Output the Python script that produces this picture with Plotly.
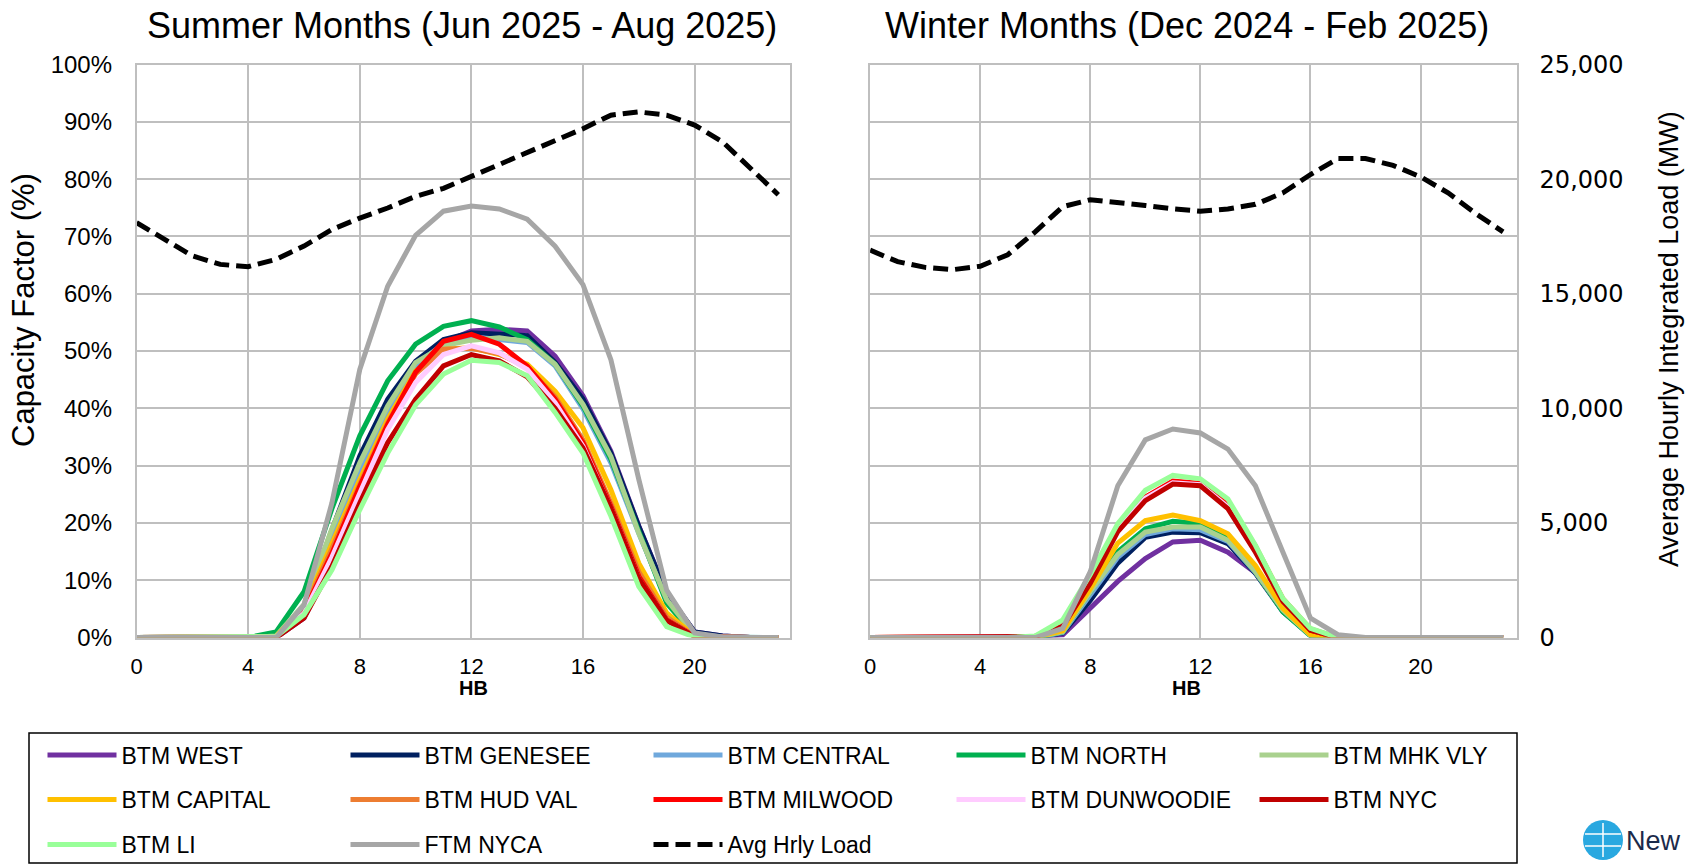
import plotly.graph_objects as go

# ---------------- data ----------------
HB = list(range(24))
x_ticks = [0, 4, 8, 12, 16, 20]
cf_ticks = [0, 10, 20, 30, 40, 50, 60, 70, 80, 90, 100]
cf_labels = ["0%", "10%", "20%", "30%", "40%", "50%", "60%", "70%", "80%", "90%", "100%"]
load_ticks = [0, 5000, 10000, 15000, 20000, 25000]
load_labels = ["0", "5,000", "10,000", "15,000", "20,000", "25,000"]

zone_names = ["BTM WEST", "BTM GENESEE", "BTM CENTRAL", "BTM NORTH", "BTM MHK VLY",
              "BTM CAPITAL", "BTM HUD VAL", "BTM MILWOOD", "BTM DUNWOODIE", "BTM NYC",
              "BTM LI", "FTM NYCA"]
zone_colors = ["#7030A0", "#002060", "#6FA8DC", "#00B050", "#A9D18E",
               "#FFC000", "#ED7D31", "#FF0000", "#FFCCFF", "#C00000",
               "#99FF99", "#A6A6A6"]

# Summer capacity factor (%), HB 0..23
summer_west      = [0, 0, 0, 0, 0, 0.0, 3.4, 13.0, 28.0, 39.0, 47.0, 51.5, 53.5, 53.8, 53.5, 49.1, 42.2, 32.5, 19.5, 7.8, 1.0, 0.3, 0, 0]
summer_genesee   = [0, 0, 0, 0, 0, 0.2, 5.2, 18.8, 31.7, 41.6, 48.2, 52.0, 53.2, 53.0, 52.7, 48.0, 41.6, 32.2, 19.4, 7.7, 1.0, 0.3, 0, 0]
summer_central   = [0, 0, 0, 0, 0, 0.1, 5.5, 17.5, 29.3, 39.2, 47.5, 51.3, 52.5, 52.0, 51.5, 47.4, 39.9, 30.5, 18.2, 6.5, 0.6, 0.1, 0, 0]
summer_north     = [0, 0, 0, 0, 0, 1.0, 8.0, 22.5, 35.2, 44.8, 51.2, 54.3, 55.3, 54.2, 52.0, 47.7, 40.4, 31.1, 18.8, 6.0, 0.4, 0, 0, 0]
summer_mhkvly    = [0, 0, 0, 0, 0, 0.3, 5.8, 19.0, 30.5, 40.4, 48.0, 50.9, 51.9, 52.3, 51.7, 47.7, 40.7, 31.6, 18.2, 6.6, 0.5, 0, 0, 0]
summer_capital   = [0, 0, 0, 0, 0, 0.2, 5.2, 16.5, 27.6, 38.1, 46.5, 50.3, 50.6, 49.4, 47.7, 43.0, 36.6, 25.8, 13.0, 4.3, 0.3, 0, 0, 0]
summer_hudval    = [0, 0, 0, 0, 0, 0.1, 4.8, 15.5, 26.8, 37.5, 46.0, 50.3, 50.5, 49.5, 47.2, 42.0, 34.5, 23.5, 11.5, 3.6, 0.2, 0, 0, 0]
summer_milwood   = [0, 0, 0, 0, 0, 0.1, 4.5, 14.7, 26.4, 37.2, 46.3, 51.7, 52.9, 51.2, 47.4, 41.6, 34.0, 22.9, 10.7, 3.1, 0.2, 0, 0, 0]
summer_dunwoodie = [0, 0, 0, 0, 0, 0.1, 4.2, 14.0, 25.2, 36.3, 44.5, 49.4, 50.9, 49.7, 46.8, 41.0, 33.4, 22.5, 10.2, 2.9, 0.2, 0, 0, 0]
summer_nyc       = [0, 0, 0, 0, 0, 0.0, 3.4, 12.4, 23.5, 34.0, 41.6, 47.4, 49.4, 48.3, 45.5, 40.0, 33.1, 22.6, 10.3, 3.0, 0.2, 0, 0, 0]
summer_li        = [0, 0, 0, 0, 0, 0.2, 4.0, 11.8, 22.3, 32.2, 40.6, 46.0, 48.4, 48.0, 45.7, 39.3, 32.2, 21.2, 8.9, 1.9, 0.1, 0, 0, 0]
summer_ftm_nyca  = [0, 0, 0, 0, 0, 0.0, 5.7, 23.5, 46.8, 61.3, 70.2, 74.4, 75.3, 74.8, 73.0, 68.3, 61.6, 48.5, 27.6, 8.3, 0.8, 0.1, 0, 0]

# Winter capacity factor (%), HB 0..23
winter_west      = [0, 0, 0, 0, 0, 0, 0.0, 0.5, 5.3, 9.8, 13.8, 16.7, 17.0, 14.9, 11.3, 5.1, 0.4, 0, 0, 0, 0, 0, 0, 0]
winter_genesee   = [0, 0, 0, 0, 0, 0, 0.0, 0.8, 6.5, 13.0, 17.5, 18.4, 18.3, 16.4, 11.2, 4.5, 0.5, 0, 0, 0, 0, 0, 0, 0]
winter_central   = [0, 0, 0, 0, 0, 0, 0.0, 0.9, 7.5, 14.0, 18.0, 19.0, 18.8, 16.8, 11.4, 4.6, 0.4, 0, 0, 0, 0, 0, 0, 0]
winter_north     = [0, 0, 0, 0, 0, 0, 0.0, 1.0, 8.0, 15.0, 19.0, 20.3, 19.9, 17.3, 11.5, 4.5, 0.3, 0, 0, 0, 0, 0, 0, 0]
winter_mhkvly    = [0, 0, 0, 0, 0, 0, 0.0, 1.0, 8.0, 14.5, 18.4, 19.3, 19.3, 17.0, 11.5, 4.8, 0.4, 0, 0, 0, 0, 0, 0, 0]
winter_capital   = [0, 0, 0, 0, 0, 0, 0.1, 1.2, 8.5, 16.5, 20.4, 21.4, 20.4, 18.1, 12.6, 5.1, 0.5, 0, 0, 0, 0, 0, 0, 0]
winter_hudval    = [0, 0, 0, 0, 0, 0, 0.2, 1.8, 10.0, 19.0, 24.5, 27.0, 26.8, 23.5, 16.0, 6.8, 1.5, 0, 0, 0, 0, 0, 0, 0]
winter_milwood   = [0, 0, 0, 0, 0, 0, 0.2, 2.0, 10.0, 19.0, 24.5, 27.3, 26.9, 23.0, 15.5, 6.5, 1.3, 0, 0, 0, 0, 0, 0, 0]
winter_dunwoodie = [0, 0, 0, 0, 0, 0, 0.2, 2.0, 10.0, 19.0, 24.3, 27.0, 26.7, 22.8, 15.3, 6.4, 1.4, 0, 0, 0, 0, 0, 0, 0]
winter_nyc       = [0, 0, 0, 0, 0, 0, 0.2, 2.0, 9.5, 18.5, 23.9, 26.8, 26.5, 22.5, 14.9, 6.3, 1.3, 0, 0, 0, 0, 0, 0, 0]
winter_li        = [0, 0, 0, 0, 0, 0, 0.3, 3.1, 11.0, 19.9, 25.7, 28.3, 27.7, 24.2, 16.1, 6.8, 1.6, 0, 0, 0, 0, 0, 0, 0]
winter_ftm_nyca  = [0, 0, 0, 0, 0, 0, 0.0, 1.6, 11.5, 26.5, 34.5, 36.4, 35.7, 32.9, 26.5, 14.9, 3.4, 0.5, 0, 0, 0, 0, 0, 0]

# Average hourly integrated load (MW)
summer_load = [18100, 17370, 16650, 16280, 16180, 16500, 17080, 17800, 18300, 18740, 19250, 19600,
               20120, 20620, 21130, 21630, 22200, 22790, 22930, 22790, 22360, 21630, 20480, 19320]
winter_load = [16900, 16400, 16150, 16050, 16200, 16700, 17700, 18800, 19100, 19000, 18850, 18700,
               18600, 18700, 18900, 19400, 20200, 20900, 20900, 20600, 20100, 19400, 18500, 17700]

summer_cf = [summer_west, summer_genesee, summer_central, summer_north, summer_mhkvly, summer_capital,
             summer_hudval, summer_milwood, summer_dunwoodie, summer_nyc, summer_li, summer_ftm_nyca]
winter_cf = [winter_west, winter_genesee, winter_central, winter_north, winter_mhkvly, winter_capital,
             winter_hudval, winter_milwood, winter_dunwoodie, winter_nyc, winter_li, winter_ftm_nyca]

# ---------------- figure ----------------
W, H = 1686, 865
FONT = "Liberation Sans, Arial, sans-serif"
GRID = "#BFBFBF"


def fx(p):
    return p / W


def fy(p):
    return 1 - p / H


fig = go.Figure()
LW = 5
for i, name in enumerate(zone_names):
    leg = "legend" if i < 5 else ("legend2" if i < 10 else "legend3")
    fig.add_trace(go.Scatter(x=HB, y=summer_cf[i], mode="lines", name=name, legend=leg,
                             legendgroup=name, line=dict(color=zone_colors[i], width=LW),
                             xaxis="x", yaxis="y"))
for i, name in enumerate(zone_names):
    fig.add_trace(go.Scatter(x=HB, y=winter_cf[i], mode="lines", name=name, showlegend=False,
                             legendgroup=name, line=dict(color=zone_colors[i], width=LW),
                             xaxis="x2", yaxis="y3"))
fig.add_trace(go.Scatter(x=HB, y=summer_load, mode="lines", name="Avg Hrly Load", legend="legend3",
                         legendgroup="load", line=dict(color="black", width=LW, dash="15px,7px"),
                         xaxis="x", yaxis="y2"))
fig.add_trace(go.Scatter(x=HB, y=winter_load, mode="lines", name="Avg Hrly Load", showlegend=False,
                         legendgroup="load", line=dict(color="black", width=LW, dash="15px,7px"),
                         xaxis="x2", yaxis="y4"))

xcommon = dict(tickmode="array", tickvals=x_ticks, showgrid=True, gridcolor=GRID, gridwidth=1.5,
               showline=True, mirror=True, linecolor=GRID, linewidth=1.5, zeroline=False,
               ticks="", tickfont=dict(family=FONT, size=22, color="black"), ticklabelstandoff=8,
               fixedrange=True, automargin=False)
ycommon = dict(range=[0, 100], tickmode="array", tickvals=cf_ticks, ticktext=cf_labels,
               showgrid=True, gridcolor=GRID,
               gridwidth=1.5, showline=True, mirror=True, linecolor=GRID, linewidth=1.5,
               zeroline=False, ticks="", tickfont=dict(family=FONT, size=24, color="black"),
               ticklabelstandoff=18, fixedrange=True, automargin=False,
               domain=[fy(637.6), fy(64.5)])

legend_common = dict(orientation="h", xanchor="left", yanchor="middle", bgcolor="rgba(0,0,0,0)",
                     borderwidth=0, font=dict(family=FONT, size=23, color="black"),
                     itemwidth=69, entrywidth=219, itemclick=False, itemdoubleclick=False)

fig.update_layout(
    width=W, height=H,
    margin=dict(l=0, r=0, t=0, b=0, autoexpand=False),
    paper_bgcolor="white", plot_bgcolor="white",
    font=dict(family=FONT, color="black"),
    xaxis=dict(xcommon, domain=[fx(136.6), fx(790)], range=[0, 23.42], anchor="y"),
    yaxis=dict(ycommon, anchor="x"),
    yaxis2=dict(range=[0, 25000], overlaying="y", anchor="x", visible=False, fixedrange=True),
    xaxis2=dict(xcommon, domain=[fx(870.1), fx(1516.6)], range=[0, 23.49], anchor="y3"),
    yaxis3=dict(ycommon, anchor="x2", showticklabels=False),
    yaxis4=dict(range=[0, 25000], overlaying="y3", anchor="x2", side="right", tickmode="array",
                tickvals=load_ticks, ticktext=load_labels, showgrid=False, showline=False,
                zeroline=False, ticks="",
                tickfont=dict(family="DejaVu Sans, sans-serif", size=24, color="black"),
                ticklabelstandoff=22, fixedrange=True, automargin=False),
    legend=dict(legend_common, x=fx(42.5), y=fy(755)),
    legend2=dict(legend_common, x=fx(42.5), y=fy(799.5)),
    legend3=dict(legend_common, x=fx(42.5), y=fy(844.5)),
    showlegend=True,
)

annotations = [
    dict(text="Summer Months (Jun 2025 - Aug 2025)", x=fx(462), y=fy(25), font=dict(size=36)),
    dict(text="Winter Months (Dec 2024 - Feb 2025)", x=fx(1187), y=fy(25), font=dict(size=36)),
    dict(text="Capacity Factor (%)", x=fx(24), y=fy(310), textangle=-90, font=dict(size=31)),
    dict(text="Average Hourly Integrated Load (MW)", x=fx(1669), y=fy(339), textangle=-90,
         font=dict(size=27)),
    dict(text="<b>HB</b>", x=fx(473), y=fy(688), font=dict(size=20)),
    dict(text="<b>HB</b>", x=fx(1186), y=fy(688), font=dict(size=20)),
    dict(text="New", x=fx(1624), y=fy(841), xanchor="left", font=dict(size=27, color="#1B2A4A")),
]
for a in annotations:
    a.update(xref="paper", yref="paper", showarrow=False)
    a.setdefault("xanchor", "center")
    a["yanchor"] = "middle"
    a["font"] = dict(family=FONT, color=a["font"].get("color", "black"), size=a["font"]["size"])
fig.update_layout(annotations=annotations)

shapes = [
    dict(type="rect", xref="paper", yref="paper", x0=fx(29), x1=fx(1517), y0=fy(863), y1=fy(733),
         line=dict(color="black", width=1.5), fillcolor="rgba(0,0,0,0)"),
    dict(type="circle", xref="paper", yref="paper", x0=fx(1583), x1=fx(1623), y0=fy(860), y1=fy(820),
         line=dict(width=0), fillcolor="#29A8E0"),
    dict(type="line", xref="paper", yref="paper", x0=fx(1585), x1=fx(1621), y0=fy(834), y1=fy(834),
         line=dict(color="white", width=1.5)),
    dict(type="line", xref="paper", yref="paper", x0=fx(1585), x1=fx(1621), y0=fy(846), y1=fy(846),
         line=dict(color="white", width=1.5)),
    dict(type="line", xref="paper", yref="paper", x0=fx(1603), x1=fx(1603), y0=fy(823), y1=fy(857),
         line=dict(color="white", width=1.5)),
]
fig.update_layout(shapes=shapes)

fig.write_html("out.html", config={"displayModeBar": False, "responsive": False},
               post_script="document.body.style.margin='0px';document.body.style.overflow='hidden';")
